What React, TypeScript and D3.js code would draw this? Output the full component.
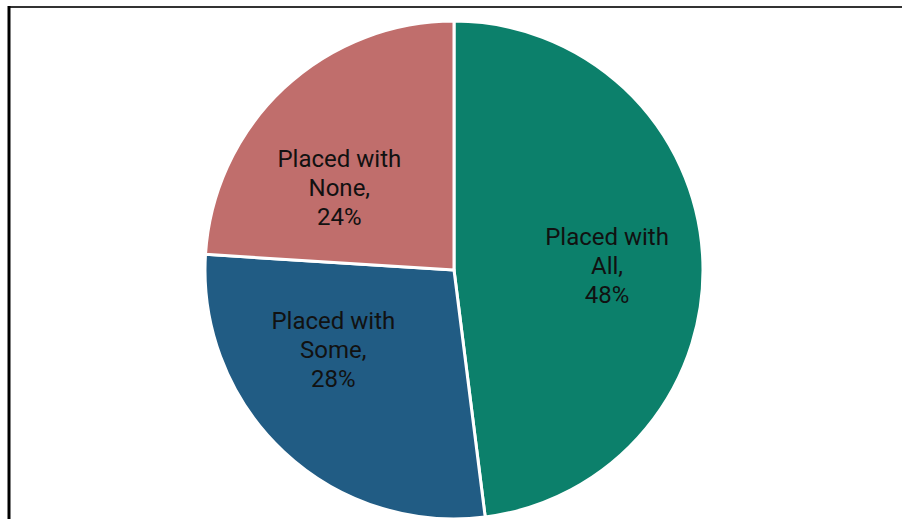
import React from "react";
import * as d3 from "d3";

const categories = ["Placed with All", "Placed with Some", "Placed with None"];
const labelLines = [["Placed with", "All,", "48%"], ["Placed with", "Some,", "28%"], ["Placed with", "None,", "24%"]];
const values = [48, 28, 24];
const colors = ["#0C806B", "#215C84", "#C06E6C"];

const W = 902;
const H = 519;
const cx = 454;
const cy = 270;
const R = 249;
// label nudges relative to centroid (Excel best-fit placement)
const labelNudge = [
  [-1, 6],
  [-15, -33],
  [-9, 31],
];

export default function App() {
  const pie = d3.pie<number>().sort(null).value((d) => d);
  const arcs = pie(values);
  const arc = d3.arc<d3.PieArcDatum<number>>().innerRadius(0).outerRadius(R);
  const labelArc = d3.arc<d3.PieArcDatum<number>>().innerRadius(R * 0.62).outerRadius(R * 0.62);
  const lineH = 29;
  return (
    <svg width={W} height={H} style={{ position: "absolute", left: 0, top: 0, background: "#fff" }}>
      <line x1={8} x2={W} y1={7} y2={7} stroke="#333" strokeWidth={2} />
      <line x1={9} x2={9} y1={6} y2={H} stroke="#000" strokeWidth={3} />
      <g transform={`translate(${cx},${cy})`}>
        {arcs.map((a, i) => (
          <path key={categories[i]} d={arc(a) as string} fill={colors[i]} stroke="#fff" strokeWidth={3} strokeLinejoin="round" />
        ))}
        {arcs.map((a, i) => {
          const [x, y] = labelArc.centroid(a);
          const lx = x + labelNudge[i][0];
          const ly = y + labelNudge[i][1];
          return (
            <text
              key={"l" + i}
              x={lx}
              y={ly}
              textAnchor="middle"
              fontFamily="Roboto, 'Liberation Sans', sans-serif"
              fontSize={24}
              fill="#111"
            >
              {labelLines[i].map((t, j) => (
                <tspan key={j} x={lx} y={ly + (j - 1) * lineH + 8}>
                  {t}
                </tspan>
              ))}
            </text>
          );
        })}
      </g>
    </svg>
  );
}
